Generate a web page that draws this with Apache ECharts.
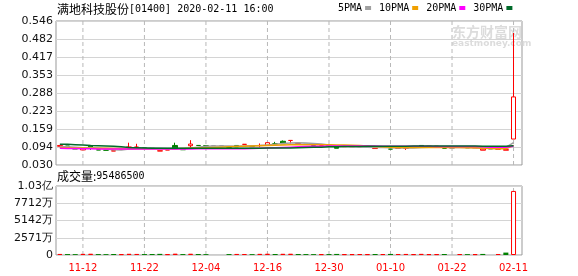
<!DOCTYPE html>
<html><head><meta charset="utf-8">
<script src="https://cdn.jsdelivr.net/npm/echarts@6/dist/echarts.min.js"></script>
<style>html,body{margin:0;padding:0;background:#fff}#c{width:578px;height:276px}</style>
</head><body><div id="c"></div>
<script>
const stockName = '满地科技股份';
const stockCode = '[01400] 2020-02-11 16:00';
const volTitle = '成交量:';
const dates = ['11-07','11-08','11-11','11-12','11-13','11-14','11-15','11-18','11-19','11-20',
  '11-21','11-22','11-25','11-26','11-27','11-28','11-29','12-02','12-03','12-04',
  '12-05','12-06','12-09','12-10','12-11','12-12','12-13','12-16','12-17','12-18',
  '12-19','12-20','12-23','12-24','12-27','12-30','12-31','01-02','01-03','01-06',
  '01-07','01-08','01-09','01-10','01-13','01-14','01-15','01-16','01-17','01-20',
  '01-21','01-22','01-23','01-24','02-04','02-05','02-06','02-07','02-10','02-11'];
const opens = [0.097,0.098,0.088,0.084,0.100,0.084,0.083,0.080,0.087,0.094,
  0.094,0.092,0.090,0.080,0.084,0.100,0.085,0.099,0.100,0.0995,
  0.0995,0.0995,0.093,0.100,0.104,0.096,0.100,0.100,0.106,0.115,
  0.118,0.107,0.104,0.100,0.101,0.100,0.094,0.096,0.096,0.096,
  0.096,0.089,0.094,0.087,0.090,0.090,0.093,0.100,0.097,0.097,
  0.090,0.090,0.093,0.092,0.092,0.083,0.087,0.087,0.083,0.123];
const closes = [0.100,0.097,0.088,0.090,0.094,0.084,0.083,0.081,0.087,0.094,
  0.094,0.092,0.090,0.081,0.084,0.088,0.085,0.105,0.100,0.0995,
  0.0995,0.0995,0.093,0.095,0.104,0.096,0.100,0.110,0.106,0.106,
  0.118,0.108,0.104,0.100,0.101,0.100,0.090,0.096,0.096,0.096,
  0.096,0.090,0.094,0.087,0.090,0.090,0.093,0.097,0.097,0.097,
  0.090,0.090,0.093,0.092,0.092,0.087,0.087,0.087,0.085,0.274];
const lows = [0.097,0.097,0.088,0.084,0.084,0.084,0.083,0.080,0.087,0.088,
  0.088,0.092,0.090,0.080,0.084,0.088,0.085,0.090,0.100,0.0995,
  0.0995,0.0995,0.093,0.095,0.104,0.096,0.094,0.100,0.099,0.106,
  0.107,0.107,0.104,0.100,0.101,0.100,0.090,0.096,0.096,0.096,
  0.096,0.089,0.094,0.087,0.090,0.084,0.093,0.097,0.097,0.097,
  0.090,0.090,0.093,0.092,0.092,0.083,0.087,0.087,0.083,0.123];
const highs = [0.100,0.098,0.088,0.090,0.100,0.084,0.083,0.081,0.087,0.110,
  0.106,0.092,0.090,0.081,0.084,0.110,0.085,0.119,0.100,0.0995,
  0.0995,0.0995,0.093,0.100,0.104,0.096,0.107,0.110,0.113,0.118,
  0.118,0.108,0.104,0.100,0.101,0.100,0.094,0.096,0.096,0.096,
  0.096,0.090,0.094,0.087,0.090,0.093,0.093,0.100,0.097,0.097,
  0.090,0.090,0.093,0.092,0.092,0.087,0.087,0.087,0.085,0.503];
const volumes = [1600000,1400000,1300000,1700000,1900000,1400000,1300000,1500000,1300000,1800000,
  1600000,1400000,1500000,1700000,1300000,2000000,1400000,1900000,1500000,1300000,
  '-','-',1400000,1600000,1500000,1300000,1700000,1900000,1500000,1800000,
  1900000,1500000,1400000,1300000,1300000,1400000,1600000,1300000,1300000,1400000,
  1300000,1500000,1400000,1600000,1500000,1600000,1300000,1700000,1300000,1300000,
  1500000,'-',1400000,1300000,1300000,1600000,'-',1500000,3600000,95486500];
const ma5 = [0.096,0.095,0.094,0.092,0.093,0.090,0.087,0.085,0.084,0.087,
  0.089,0.090,0.091,0.090,0.088,0.089,0.087,0.091,0.094,0.097,
  0.098,0.098,0.098,0.097,0.098,0.099,0.100,0.102,0.104,0.107,
  0.109,0.110,0.109,0.107,0.105,0.102,0.099,0.097,0.096,0.095,
  0.094,0.093,0.093,0.092,0.091,0.091,0.091,0.093,0.094,0.095,
  0.094,0.093,0.093,0.093,0.092,0.091,0.090,0.089,0.093,0.110];
const ma10 = [0.093,0.092,0.091,0.091,0.090,0.090,0.090,0.089,0.089,0.088,
  0.088,0.088,0.088,0.088,0.088,0.088,0.089,0.090,0.091,0.092,
  0.093,0.094,0.095,0.096,0.097,0.098,0.099,0.100,0.101,0.102,
  0.103,0.103,0.103,0.103,0.103,0.103,0.102,0.102,0.101,0.100,
  0.098,0.096,0.095,0.094,0.093,0.093,0.093,0.093,0.093,0.093,
  0.093,0.093,0.093,0.092,0.092,0.090,0.089,0.088,0.088,0.100];
const ma20 = [0.090,0.089,0.089,0.088,0.088,0.087,0.087,0.087,0.087,0.087,
  0.087,0.087,0.087,0.087,0.087,0.087,0.087,0.087,0.088,0.088,
  0.088,0.088,0.088,0.088,0.088,0.089,0.090,0.091,0.092,0.093,
  0.094,0.095,0.096,0.097,0.097,0.098,0.098,0.098,0.098,0.098,
  0.098,0.098,0.097,0.097,0.097,0.097,0.097,0.097,0.097,0.096,
  0.096,0.096,0.096,0.096,0.096,0.095,0.094,0.094,0.094,0.097];
const ma30 = [0.104,0.104,0.103,0.102,0.100,0.099,0.098,0.097,0.095,0.093,
  0.092,0.091,0.090,0.090,0.090,0.090,0.090,0.090,0.090,0.090,
  0.090,0.090,0.090,0.090,0.090,0.090,0.090,0.091,0.091,0.091,
  0.091,0.092,0.093,0.094,0.094,0.095,0.095,0.096,0.096,0.096,
  0.097,0.097,0.097,0.097,0.097,0.097,0.098,0.098,0.098,0.098,
  0.098,0.098,0.098,0.098,0.098,0.097,0.097,0.097,0.097,0.099];
const maNames = ['5PMA','10PMA','20PMA','30PMA'];
const labelIdx = [3,11,19,27,35,43,51,59];
const priceTicks = ['0.030','0.094','0.159','0.223','0.288','0.353','0.417','0.482','0.546'];
const priceMin = 0.030, priceMax = 0.546, priceStep = 0.0645;
const volTicks = ['0','2571万','5142万','7712万','1.03亿'];
const volMax = 102832000, volStep = 25708000;

const UP = '#ff0000', DOWN = '#008000', FLAT = '#999999';
const maColors = ['#a0a0a0', '#f0a000', '#ff00ff', '#006a2a'];
const monoFont = '"DejaVu Sans Mono", "Liberation Mono", monospace';
const cjkFont = '"Noto Sans CJK SC", sans-serif';

const candleData = dates.map((d, i) => {
  const item = { value: [i, opens[i], closes[i], lows[i], highs[i]] };
  if (volumes[i] === '-') {
    item.itemStyle = { color: FLAT, color0: FLAT, borderColor: FLAT, borderColor0: FLAT };
  }
  return item;
});
const volData = dates.map((d, i) => {
  if (volumes[i] === '-') return { value: [i, '-'] };
  const up = i === 0 || closes[i] >= closes[i - 1];
  return {
    value: [i, volumes[i]],
    itemStyle: up ? { color: '#ffffff', borderColor: UP, borderWidth: 1 } : { color: DOWN, borderColor: DOWN, borderWidth: 0 }
  };
});
const maSeries = [ma5, ma10, ma20, ma30].map((arr, k) => ({
  name: maNames[k], type: 'line', xAxisIndex: 0, yAxisIndex: 0, z: 4,
  data: arr.map((v, i) => [i, v]), showSymbol: false, symbol: 'none',
  lineStyle: { color: maColors[k], width: 1.5 }, itemStyle: { color: maColors[k] },
  silent: true, animation: false
}));
// vertical date grid lines, one short line series per date, placed by the axes' scales
function dateLineSeries(g, lo, hi) {
  return labelIdx.map(i => ({
    type: 'line', xAxisIndex: g, yAxisIndex: g, z: 1, silent: true, animation: false,
    showSymbol: false, symbol: 'none',
    data: [[i, lo], [i, hi]],
    lineStyle: { color: '#b8b8b8', width: 1, type: [4, 3] }
  }));
}

const gridLine = { color: '#d4d4d4', width: 1 };
const xBase = {
  type: 'value', min: -0.5, max: 60.1,
  axisLine: { show: false },
  axisTick: { show: false, customValues: labelIdx },
  splitLine: { show: false }
};

const chart = echarts.init(document.getElementById('c'), null, { renderer: 'canvas' });
chart.setOption({
  animation: false,
  backgroundColor: '#ffffff',
  legend: {
    left: 338, top: 3, itemWidth: 6, itemHeight: 4, itemGap: 8, align: 'right',
    selectedMode: false, icon: 'rect', padding: 0,
    textStyle: { fontFamily: monoFont, fontSize: 10, color: '#000', padding: [0, -2, 0, 0] },
    data: maNames
  },
  graphic: [
    { type: 'text', left: 57, top: 3, z: 10,
      style: { text: '{a|' + stockName + '}{b|' + stockCode + '}',
        rich: { a: { fontFamily: cjkFont, fontSize: 12, fill: '#000' },
                b: { fontFamily: monoFont, fontSize: 10, fill: '#000' } } } },
    { type: 'text', left: 57, top: 170, z: 10,
      style: { text: '{a|' + volTitle + '}{b|' + volumes[volumes.length - 1] + '}',
        rich: { a: { fontFamily: cjkFont, fontSize: 12, fill: '#000' },
                b: { fontFamily: monoFont, fontSize: 10, fill: '#000' } } } },
    { type: 'text', left: 452, top: 25, z: 0, silent: true,
      style: { text: '东方财富网', font: 'bold 14px "Noto Sans CJK SC"', fill: '#dcdcdc' } },
    { type: 'text', left: 452, top: 39, z: 0, silent: true,
      style: { text: 'eastmoney.com', font: 'bold 9px "DejaVu Sans"', fill: '#dcdcdc' } }
  ],
  grid: [
    { left: 56, top: 21, width: 466, height: 144, show: true, borderColor: '#999', borderWidth: 1, backgroundColor: 'transparent' },
    { left: 56, top: 186, width: 466, height: 69, show: true, borderColor: '#999', borderWidth: 1, backgroundColor: 'transparent' }
  ],
  xAxis: [
    Object.assign({}, xBase, { gridIndex: 0, axisLabel: { show: false, customValues: labelIdx } }),
    Object.assign({}, xBase, { gridIndex: 1,
      axisLabel: { show: true, customValues: labelIdx, color: '#ff0000', fontSize: 10,
        fontFamily: 'DejaVu Sans', margin: 8, formatter: v => dates[Math.round(v)] } })
  ],
  yAxis: [
    { type: 'value', gridIndex: 0, min: priceMin, max: priceMax, interval: priceStep,
      axisLine: { show: false }, axisTick: { show: false },
      splitLine: { show: true, lineStyle: gridLine },
      axisLabel: { color: '#111', fontSize: 11, fontFamily: 'DejaVu Sans', margin: 3,
        formatter: v => priceTicks[Math.round((v - priceMin) / priceStep)] } },
    { type: 'value', gridIndex: 1, min: 0, max: volMax, interval: volStep,
      axisLine: { show: false }, axisTick: { show: false },
      splitLine: { show: true, lineStyle: gridLine },
      axisLabel: { color: '#111', fontSize: 11, fontFamily: 'DejaVu Sans', margin: 3,
        formatter: v => volTicks[Math.round(v / volStep)] } }
  ],
  series: dateLineSeries(0, priceMin, priceMax).concat(dateLineSeries(1, 0, volMax)).concat([
    { name: 'K', type: 'candlestick', xAxisIndex: 0, yAxisIndex: 0, barWidth: 5, z: 3,
      data: candleData,
      itemStyle: { color: '#ffffff', color0: DOWN, borderColor: UP, borderColor0: DOWN, borderWidth: 1 } }
  ]).concat(maSeries).concat([
    { name: 'VOL', type: 'bar', xAxisIndex: 1, yAxisIndex: 1, barWidth: 5, z: 3, data: volData }
  ])
});
</script>
</body></html>
